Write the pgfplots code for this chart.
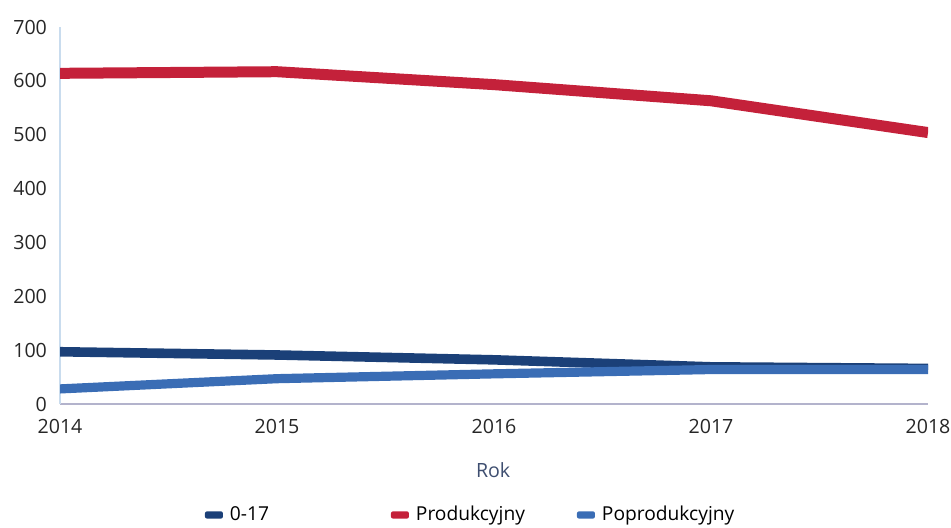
\documentclass[border=0pt]{standalone}
\usepackage{pgfplots}
\pgfplotsset{compat=1.18}
\usepackage{fontspec}
\setmainfont{Open Sans}
\definecolor{cred}{HTML}{C4213A}
\definecolor{cdark}{HTML}{1B4078}
\definecolor{clight}{HTML}{3A6DB5}
\definecolor{ylinec}{HTML}{C9DCEE}
\definecolor{xlinec}{HTML}{B3B3CC}
\definecolor{labc}{HTML}{3E4E70}
\begin{document}
\begin{tikzpicture}
\useasboundingbox (0,0) rectangle (475.5pt,264pt);
\begin{axis}[
  at={(30pt,62pt)}, anchor=south west,
  scale only axis,
  width=434pt, height=188.5pt,
  xmin=2014, xmax=2018, ymin=0, ymax=700,
  xtick={2014,2015,2016,2017,2018},
  ytick={0,100,200,300,400,500,600,700},
  axis lines*=left,
  x axis line style={draw=xlinec, line width=0.8pt},
  y axis line style={draw=ylinec, line width=0.8pt},
  major tick length=0pt,
  tick label style={font=\fontsize{9.8}{11}\selectfont, text=black!85},
  /pgf/number format/assume math mode=true,
  /pgf/number format/1000 sep={},
  xticklabel style={yshift=-4pt},
  yticklabel style={xshift=-3pt},
  xlabel={Rok},
  xlabel style={font=\fontsize{9.8}{11}\selectfont, text=labc, at={(axis description cs:0.499,-0.175)}, anchor=center},
  legend columns=3,
  legend style={at={(axis description cs:0.167,-0.2944)}, anchor=west, draw=none, fill=none,
    inner sep=0pt, outer sep=0pt,
    font=\fontsize{9.6}{11}\selectfont,
    nodes={text width=80.5pt, align=left, inner sep=0pt, anchor=west},
    /tikz/every odd column/.append style={column sep=3.5pt},
    /tikz/every even column/.append style={column sep=0pt}},
  legend image code/.code={\draw[fill, draw=none, rounded corners=1pt] (0pt,-1.8pt) rectangle (9pt,1.8pt);},
  line join=round,
]
\addplot[cdark, line width=4.8pt] coordinates {(2014,97) (2015,91) (2016,82) (2017,69) (2018,66)};
\addlegendentry{0-17}
\addplot[cred, line width=5.5pt] coordinates {(2014,614) (2015,617) (2016,593) (2017,563) (2018,504)};
\addlegendentry{Produkcyjny}
\addplot[clight, line width=4.6pt] coordinates {(2014,28) (2015,47) (2016,56) (2017,64) (2018,64)};
\addlegendentry{Poprodukcyjny}
\end{axis}
\end{tikzpicture}
\end{document}
